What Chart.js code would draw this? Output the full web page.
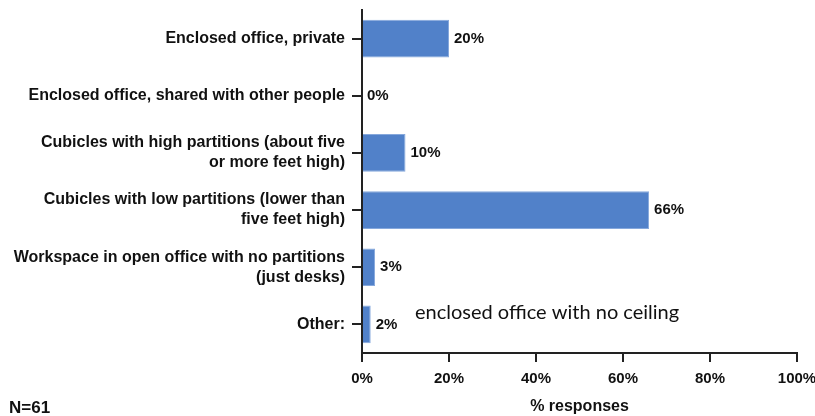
<!DOCTYPE html>
<html>
<head>
<meta charset="utf-8">
<style>
  html, body { margin: 0; padding: 0; background: #fff; }
  #wrap { position: relative; width: 815px; height: 416px; }
</style>
<script src="https://cdn.jsdelivr.net/npm/chart.js@4"></script>
</head>
<body>
<div id="wrap"><canvas id="officeChart" width="815" height="416"></canvas></div>
<script>
// workspace types and share of responses (%)
const workspaceTypes = [
    'Enclosed office, private',
    'Enclosed office, shared with other people',
    ['Cubicles with high partitions (about five', 'or more feet high)'],
    ['Cubicles with low partitions (lower than', 'five feet high)'],
    ['Workspace in open office with no partitions', '(just desks)'],
    'Other:'
];
const responseShares = [20, 0, 10, 66, 3, 2];
const percentTicks = [0, 20, 40, 60, 80, 100];
const sampleNote = 'N=61';
const otherNote = 'enclosed office with no ceiling';

const boldFont = '"Liberation Sans Narrow", "Liberation Sans", Arial, sans-serif';

// value labels at the end of each bar plus the free text notes
const extraText = {
    id: 'extraText',
    afterDatasetsDraw(chart) {
        const ctx = chart.ctx;
        const meta = chart.getDatasetMeta(0);
        ctx.save();
        ctx.fillStyle = '#111';
        ctx.font = 'bold 15px ' + boldFont;
        ctx.textBaseline = 'middle';
        ctx.textAlign = 'left';
        meta.data.forEach((bar, i) => {
            ctx.fillText(responseShares[i] + '%', bar.x + 5, bar.y);
        });
        ctx.font = 'bold 17px ' + boldFont;
        ctx.fillText(sampleNote, 9, 408);
        ctx.font = '20px Lato, "Open Sans", sans-serif';
        ctx.fillText(otherNote, 415, 313);
        ctx.restore();
    }
};

new Chart(document.getElementById('officeChart'), {
    type: 'bar',
    data: {
        labels: workspaceTypes,
        datasets: [{
            data: responseShares,
            backgroundColor: '#5181c9',
            borderColor: '#86a8dc',
            borderWidth: 1,
            barPercentage: 0.66,
            categoryPercentage: 1
        }]
    },
    plugins: [extraText],
    options: {
        indexAxis: 'y',
        responsive: false,
        animation: false,
        layout: { padding: { top: 10, right: 18, left: 0, bottom: 0 } },
        plugins: {
            legend: { display: false },
            tooltip: { enabled: false }
        },
        scales: {
            x: {
                min: 0,
                max: 100,
                afterBuildTicks(scale) {
                    scale.ticks = percentTicks.map(v => ({ value: v }));
                },
                afterFit(scale) {
                    scale.height = 63;
                    scale.paddingLeft = 0;
                    scale.paddingRight = 0;
                },
                grid: {
                    drawOnChartArea: false,
                    color: '#222',
                    lineWidth: 2,
                    tickLength: 9
                },
                border: { color: '#222', width: 2 },
                ticks: {
                    color: '#111',
                    padding: 8,
                    maxRotation: 0,
                    font: { family: boldFont, size: 15, weight: 'bold' },
                    callback: v => v + '%'
                },
                title: {
                    display: true,
                    text: '% responses',
                    color: '#111',
                    padding: { top: 3, bottom: 0 },
                    font: { family: boldFont, size: 16, weight: 'bold' }
                }
            },
            y: {
                afterFit(scale) {
                    scale.width = 362;
                    scale.paddingTop = 0;
                    scale.paddingBottom = 0;
                },
                grid: {
                    offset: false,
                    drawOnChartArea: false,
                    color: '#222',
                    lineWidth: 2,
                    tickLength: 10
                },
                border: { color: '#222', width: 2 },
                ticks: {
                    color: '#111',
                    padding: 7,
                    font: { family: boldFont, size: 16, weight: 'bold', lineHeight: 1.25 }
                }
            }
        }
    }
});
</script>
</body>
</html>
